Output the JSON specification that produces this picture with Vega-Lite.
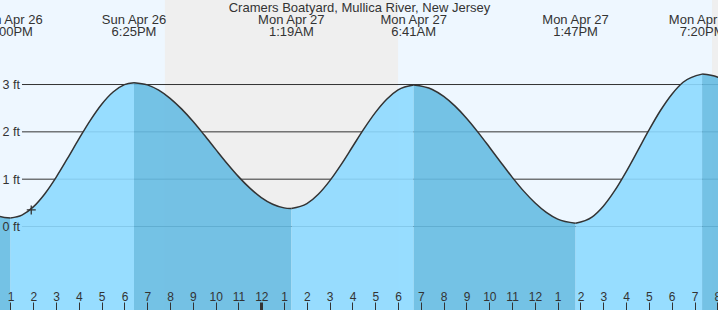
{
  "$schema": "https://vega.github.io/schema/vega-lite/v6.json",
  "width": 718,
  "height": 310,
  "padding": 0,
  "autosize": {"type": "none"},
  "background": "#eef7ff",
  "config": {
    "view": {"stroke": null},
    "font": "Liberation Sans",
    "axisX": {"orient": "bottom", "offset": -8,
      "domain": false, "grid": false, "title": null, "tickSize": 8, "tickColor": "#333",
      "labelFontSize": 12, "labelColor": "#333", "labelFont": "Liberation Sans",
      "labelBaseline": "alphabetic", "labelPadding": -10, "labelOverlap": false, "labelFlush": false, "labelBound": false},
    "axisY": {"orient": "left", "domain": false, "ticks": false, "tickSize": 0, "grid": false, "title": null,
      "labelAlign": "left", "labelPadding": -2, "labelBaseline": "middle",
      "labelFontSize": 12.5, "labelColor": "#333", "labelFont": "Liberation Sans"}
  },
  "datasets": {
    "tide": [
      {"t": 12.0, "v": 0.333, "seg": "a", "phase": "ebb"},
      {"t": 12.5, "v": 0.219, "seg": "a", "phase": "ebb"},
      {"t": 13.0, "v": 0.18, "seg": "a", "phase": "ebb"},
      {"t": 13.0, "v": 0.18, "seg": "b", "phase": "flood"},
      {"t": 13.5, "v": 0.24, "seg": "b", "phase": "flood"},
      {"t": 14.0, "v": 0.414, "seg": "b", "phase": "flood"},
      {"t": 14.5, "v": 0.688, "seg": "b", "phase": "flood"},
      {"t": 15.0, "v": 1.039, "seg": "b", "phase": "flood"},
      {"t": 15.5, "v": 1.438, "seg": "b", "phase": "flood"},
      {"t": 16.0, "v": 1.851, "seg": "b", "phase": "flood"},
      {"t": 16.5, "v": 2.243, "seg": "b", "phase": "flood"},
      {"t": 17.0, "v": 2.584, "seg": "b", "phase": "flood"},
      {"t": 17.5, "v": 2.842, "seg": "b", "phase": "flood"},
      {"t": 18.0, "v": 2.998, "seg": "b", "phase": "flood"},
      {"t": 18.417, "v": 3.04, "seg": "b", "phase": "flood"},
      {"t": 18.417, "v": 3.04, "seg": "c", "phase": "ebb"},
      {"t": 19.0, "v": 2.993, "seg": "c", "phase": "ebb"},
      {"t": 19.5, "v": 2.882, "seg": "c", "phase": "ebb"},
      {"t": 20.0, "v": 2.709, "seg": "c", "phase": "ebb"},
      {"t": 20.5, "v": 2.485, "seg": "c", "phase": "ebb"},
      {"t": 21.0, "v": 2.224, "seg": "c", "phase": "ebb"},
      {"t": 21.5, "v": 1.932, "seg": "c", "phase": "ebb"},
      {"t": 22.0, "v": 1.63, "seg": "c", "phase": "ebb"},
      {"t": 22.5, "v": 1.332, "seg": "c", "phase": "ebb"},
      {"t": 23.0, "v": 1.054, "seg": "c", "phase": "ebb"},
      {"t": 23.5, "v": 0.81, "seg": "c", "phase": "ebb"},
      {"t": 24.0, "v": 0.612, "seg": "c", "phase": "ebb"},
      {"t": 24.5, "v": 0.471, "seg": "c", "phase": "ebb"},
      {"t": 25.0, "v": 0.394, "seg": "c", "phase": "ebb"},
      {"t": 25.317, "v": 0.38, "seg": "c", "phase": "ebb"},
      {"t": 25.317, "v": 0.38, "seg": "d", "phase": "flood"},
      {"t": 26.0, "v": 0.483, "seg": "d", "phase": "flood"},
      {"t": 26.5, "v": 0.681, "seg": "d", "phase": "flood"},
      {"t": 27.0, "v": 0.964, "seg": "d", "phase": "flood"},
      {"t": 27.5, "v": 1.308, "seg": "d", "phase": "flood"},
      {"t": 28.0, "v": 1.685, "seg": "d", "phase": "flood"},
      {"t": 28.5, "v": 2.062, "seg": "d", "phase": "flood"},
      {"t": 29.0, "v": 2.406, "seg": "d", "phase": "flood"},
      {"t": 29.5, "v": 2.689, "seg": "d", "phase": "flood"},
      {"t": 30.0, "v": 2.887, "seg": "d", "phase": "flood"},
      {"t": 30.683, "v": 2.99, "seg": "d", "phase": "flood"},
      {"t": 30.683, "v": 2.99, "seg": "e", "phase": "ebb"},
      {"t": 31.5, "v": 2.896, "seg": "e", "phase": "ebb"},
      {"t": 32.0, "v": 2.749, "seg": "e", "phase": "ebb"},
      {"t": 32.5, "v": 2.543, "seg": "e", "phase": "ebb"},
      {"t": 33.0, "v": 2.288, "seg": "e", "phase": "ebb"},
      {"t": 33.5, "v": 1.995, "seg": "e", "phase": "ebb"},
      {"t": 34.0, "v": 1.68, "seg": "e", "phase": "ebb"},
      {"t": 34.5, "v": 1.358, "seg": "e", "phase": "ebb"},
      {"t": 35.0, "v": 1.044, "seg": "e", "phase": "ebb"},
      {"t": 35.5, "v": 0.753, "seg": "e", "phase": "ebb"},
      {"t": 36.0, "v": 0.503, "seg": "e", "phase": "ebb"},
      {"t": 36.5, "v": 0.299, "seg": "e", "phase": "ebb"},
      {"t": 37.0, "v": 0.157, "seg": "e", "phase": "ebb"},
      {"t": 37.783, "v": 0.07, "seg": "e", "phase": "ebb"},
      {"t": 37.783, "v": 0.07, "seg": "f", "phase": "flood"},
      {"t": 38.5, "v": 0.198, "seg": "f", "phase": "flood"},
      {"t": 39.0, "v": 0.429, "seg": "f", "phase": "flood"},
      {"t": 39.5, "v": 0.757, "seg": "f", "phase": "flood"},
      {"t": 40.0, "v": 1.156, "seg": "f", "phase": "flood"},
      {"t": 40.5, "v": 1.593, "seg": "f", "phase": "flood"},
      {"t": 41.0, "v": 2.035, "seg": "f", "phase": "flood"},
      {"t": 41.5, "v": 2.446, "seg": "f", "phase": "flood"},
      {"t": 42.0, "v": 2.791, "seg": "f", "phase": "flood"},
      {"t": 42.5, "v": 3.049, "seg": "f", "phase": "flood"},
      {"t": 43.333, "v": 3.22, "seg": "f", "phase": "flood"},
      {"t": 43.333, "v": 3.22, "seg": "g", "phase": "ebb"},
      {"t": 44.0, "v": 3.159, "seg": "g", "phase": "ebb"},
      {"t": 44.5, "v": 3.035, "seg": "g", "phase": "ebb"}
    ],
    "nights": [
      {"start": 19.77, "end": 30.0, "lo": -3, "hi": 6},
      {"start": 43.77, "end": 45.0, "lo": -3, "hi": 6}
    ],
    "levels": [{"ft": 0}, {"ft": 1}, {"ft": 2}, {"ft": 3}],
    "extremes": [
      {"t": 13.0, "day": "Sun Apr 26", "time": "1:00PM"},
      {"t": 18.417, "day": "Sun Apr 26", "time": "6:25PM"},
      {"t": 25.317, "day": "Mon Apr 27", "time": "1:19AM"},
      {"t": 30.683, "day": "Mon Apr 27", "time": "6:41AM"},
      {"t": 37.783, "day": "Mon Apr 27", "time": "1:47PM"},
      {"t": 43.333, "day": "Mon Apr 27", "time": "7:20PM"}
    ],
    "now": [{"t": 13.91, "v": 0.35}],
    "title": [{"t": 28.307, "label": "Cramers Boatyard, Mullica River, New Jersey"}]
  },
  "encoding": {
    "x": {"type": "quantitative", "scale": {"domain": [12.5395, 44.0307], "nice": false, "zero": false},
      "axis": {"values": [13,14,15,16,17,18,19,20,21,22,23,24,25,26,27,28,29,30,31,32,33,34,35,36,37,38,39,40,41,42,43,44],
        "tickWidth": {"condition": {"test": "datum.value == 24", "value": 3}, "value": 1},
        "labelExpr": "datum.value % 12 == 0 ? '12' : '' + (datum.value % 12)", "title": null, "zindex": 2}},
    "y": {"type": "quantitative", "scale": {"domain": [-1.764, 4.786], "nice": false, "zero": false},
      "axis": {"values": [0, 1, 2, 3], "labelExpr": "datum.value + ' ft'", "title": null, "zindex": 2}}
  },
  "layer": [
    {
      "data": {"name": "nights"},
      "mark": {"type": "rect", "color": "#efefef", "clip": true},
      "encoding": {
        "x": {"field": "start"},
        "x2": {"field": "end"},
        "y": {"field": "lo"},
        "y2": {"field": "hi"}
      }
    },
    {
      "data": {"name": "levels"},
      "mark": {"type": "rule", "color": "#333", "strokeWidth": 1, "clip": true},
      "encoding": {
        "x": {"datum": 13.5044},
        "x2": {"datum": 44.5},
        "y": {"field": "ft"}
      }
    },
    {
      "data": {"name": "tide"},
      "mark": {"type": "area", "interpolate": "monotone", "opacity": 0.9, "clip": true},
      "encoding": {
        "x": {"field": "t"},
        "y": {"field": "v", "stack": null},
        "y2": {"datum": -3},
        "detail": {"field": "seg"},
        "color": {"field": "phase", "type": "nominal", "scale": {"domain": ["flood", "ebb"], "range": ["#8dd9ff", "#66bbe2"]}, "legend": null}
      }
    },
    {
      "data": {"name": "tide"},
      "mark": {"type": "line", "interpolate": "monotone", "color": "#333", "strokeWidth": 1.5, "clip": true},
      "encoding": {
        "x": {"field": "t"},
        "y": {"field": "v"},
        "detail": {"field": "seg"}
      }
    },
    {
      "data": {"name": "now"},
      "mark": {"type": "point", "shape": "M-1,0L1,0M0,-1L0,1", "size": 81, "filled": false, "stroke": "#333", "strokeWidth": 1.3, "opacity": 1},
      "encoding": {
        "x": {"field": "t"},
        "y": {"field": "v"}
      }
    },
    {
      "data": {"name": "extremes"},
      "mark": {"type": "text", "fontSize": 13, "color": "#333", "align": "center", "baseline": "alphabetic", "font": "Liberation Sans"},
      "encoding": {
        "x": {"field": "t"},
        "y": {"datum": 4.289},
        "text": {"field": "day"}
      }
    },
    {
      "data": {"name": "extremes"},
      "mark": {"type": "text", "fontSize": 13, "color": "#333", "align": "center", "baseline": "alphabetic", "font": "Liberation Sans"},
      "encoding": {
        "x": {"field": "t"},
        "y": {"datum": 4.031},
        "text": {"field": "time"}
      }
    },
    {
      "data": {"name": "title"},
      "mark": {"type": "text", "fontSize": 13, "color": "#333", "align": "center", "baseline": "alphabetic", "font": "Liberation Sans"},
      "encoding": {
        "x": {"field": "t"},
        "y": {"datum": 4.525},
        "text": {"field": "label"}
      }
    }
  ]
}
